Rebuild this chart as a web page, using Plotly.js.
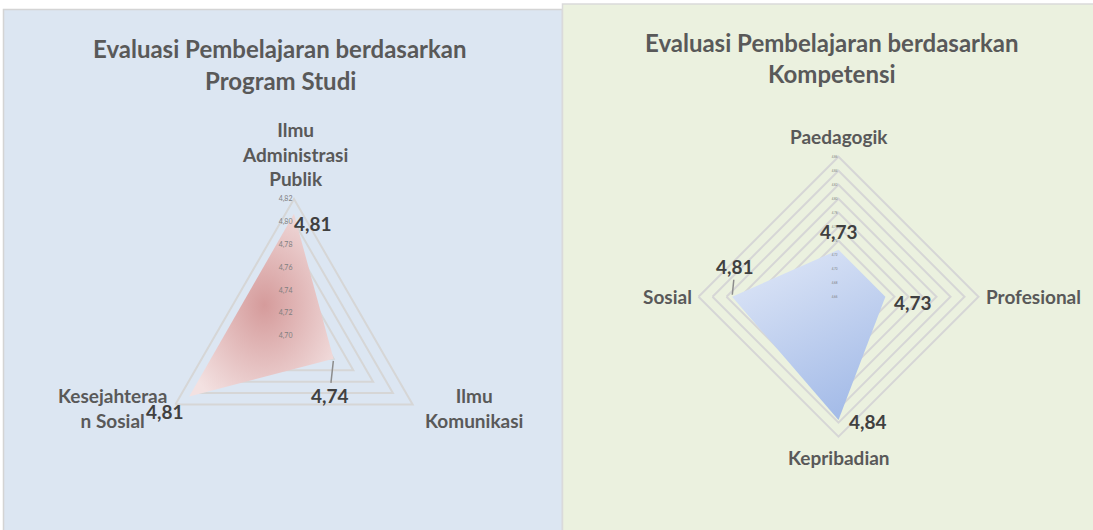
<!DOCTYPE html>
<html>
<head>
<meta charset="utf-8">
<script src="https://cdn.plot.ly/plotly-3.0.1.min.js"></script>
<style>html,body{margin:0;padding:0;background:#fff;}#chart{width:1093px;height:530px;}</style>
</head>
<body>
<div id="chart"></div>
<script>
// ---- Data ----
const progCategories = ['Ilmu Administrasi Publik', 'Ilmu Komunikasi', 'Kesejahteraan Sosial'];
const progLabels = ['Ilmu<br>Administrasi<br>Publik', 'Ilmu<br>Komunikasi', 'Kesejahteraa<br>n Sosial'];
const progValues = [4.807, 4.740, 4.806];
const progRange = [4.70, 4.82];
const progStep = 0.02;

const kompCategories = ['Paedagogik', 'Profesional', 'Kepribadian', 'Sosial'];
const kompValues = [4.727, 4.727, 4.836, 4.812];
const kompRange = [4.66, 4.86];
const kompStep = 0.02;

const titleLeft = ['Evaluasi Pembelajaran berdasarkan', 'Program Studi'];
const titleRight = ['Evaluasi Pembelajaran berdasarkan', 'Kompetensi'];

// ---- Geometry helpers ----
const W = 1093, H = 530;
const px = x => x / W;
const py = y => 1 - y / H;
const fmt = v => v.toFixed(2).replace('.', ',');

const left = {cx: 294, cy: 336, R: 137};
const right = {cx: 838.5, cy: 296.7, R: 140};
function domainOf(g) {
  return {x: [px(g.cx - g.R), px(g.cx + g.R)], y: [py(g.cy + g.R), py(g.cy - g.R)]};
}
function pt(g, range, v, angDeg) {
  const r = g.R * (v - range[0]) / (range[1] - range[0]);
  const a = angDeg * Math.PI / 180;
  return [g.cx + r * Math.cos(a), g.cy - r * Math.sin(a)];
}
function angles(n) { const out = []; for (let i = 0; i < n; i++) out.push(90 - 360 * i / n); return out; }

const close = a => a.concat([a[0]]);

const traces = [
  {
    type: 'scatterpolar', subplot: 'polar',
    r: close(progValues), theta: close(progCategories),
    mode: 'lines', fill: 'toself', line: {width: 0, color: 'rgba(0,0,0,0)'},
    fillcolor: '#e2b7b7', hoverinfo: 'skip'
  },
  {
    type: 'scatterpolar', subplot: 'polar2',
    r: close(kompValues), theta: close(kompCategories),
    mode: 'lines', fill: 'toself', line: {width: 0, color: 'rgba(0,0,0,0)'},
    fillcolor: '#c3d2f0', hoverinfo: 'skip'
  }
];

const gridCol = '#d6d6d6';
function polarLayout(g, range, step, tickSize) {
  return {
    domain: domainOf(g),
    bgcolor: 'rgba(0,0,0,0)',
    gridshape: 'linear',
    radialaxis: {
      range: range, tick0: range[0], dtick: step, tickformat: '.2f',
      angle: 90, tickangle: 90, side: 'counterclockwise', showline: false, ticks: '',
      gridcolor: gridCol, gridwidth: 2,
      tickfont: {family: 'Lato, sans-serif', size: tickSize, color: '#7f7f7f'}
    },
    angularaxis: {
      rotation: 90, direction: 'clockwise', showgrid: false,
      showline: true, linecolor: gridCol, linewidth: 2,
      showticklabels: false, ticks: ''
    }
  };
}

const annotations = [];
const labFont = {family: 'Lato, sans-serif', size: 19, color: '#595959'};
const valFont = {family: 'Lato, sans-serif', size: 19, color: '#404040'};
function addTitle(lines, cx, ys) {
  lines.forEach((t, i) => annotations.push({
    text: '<b>' + t + '</b>', xref: 'paper', yref: 'paper', x: px(cx), y: py(ys[i]),
    xanchor: 'center', yanchor: 'middle', showarrow: false,
    font: {family: 'Lato, sans-serif', size: 24, color: '#595959'}
  }));
}
addTitle(titleLeft, 280, [49, 81]);
addTitle(titleRight, 832, [43, 74]);

// Category labels
const progCatOff = [[1, -45], [61, 3], [-63, 3]];
angles(progCategories.length).forEach((a, i) => {
  const p = pt(left, progRange, progRange[1], a);
  annotations.push({text: '<b>' + progLabels[i] + '</b>', xref: 'paper', yref: 'paper',
    x: px(p[0] + progCatOff[i][0]), y: py(p[1] + progCatOff[i][1]),
    xanchor: 'center', yanchor: 'middle', align: 'center', showarrow: false, font: labFont});
});
const kompCatOff = [[0, -20], [55, 0], [0, 21], [-31, 0]];
angles(kompCategories.length).forEach((a, i) => {
  const p = pt(right, kompRange, kompRange[1], a);
  annotations.push({text: '<b>' + kompCategories[i] + '</b>', xref: 'paper', yref: 'paper',
    x: px(p[0] + kompCatOff[i][0]), y: py(p[1] + kompCatOff[i][1]),
    xanchor: 'center', yanchor: 'middle', showarrow: false, font: labFont});
});

// Value labels
function addValues(g, range, vals, offs, leader) {
  angles(vals.length).forEach((a, i) => {
    const p = pt(g, range, vals[i], a);
    if (leader.includes(i)) {
      annotations.push({text: '<b>' + fmt(vals[i]) + '</b>', xref: 'paper', yref: 'paper',
        x: px(p[0]), y: py(p[1]), ax: offs[i][0], ay: offs[i][1],
        showarrow: true, arrowhead: 0, arrowwidth: 1.5, arrowcolor: '#8c8c8c', standoff: 2, startstandoff: 0,
        font: valFont});
    } else {
      annotations.push({text: '<b>' + fmt(vals[i]) + '</b>', xref: 'paper', yref: 'paper',
        x: px(p[0] + offs[i][0]), y: py(p[1] + offs[i][1]),
        xanchor: 'center', yanchor: 'middle', showarrow: false, font: valFont});
    }
  });
}
addValues(left, progRange, progValues, [[19, 10], [-4, 37], [-24, 15]], [1]);
addValues(right, kompRange, kompValues, [[1, -18], [28, 6], [29, 2], [3, -30]], [3]);

const shapes = [
  {type: 'rect', xref: 'paper', yref: 'paper', x0: px(3.5), x1: px(562.5), y0: py(540), y1: py(9.5),
   fillcolor: '#dce6f2', line: {color: '#d4d4d4', width: 1.5}, layer: 'below'},
  {type: 'rect', xref: 'paper', yref: 'paper', x0: px(562.5), x1: px(1100), y0: py(540), y1: py(4),
   fillcolor: '#ebf1df', line: {color: '#dadada', width: 1.5}, layer: 'below'}
];

const layout = {
  width: W, height: H,
  margin: {l: 0, r: 0, t: 0, b: 0},
  paper_bgcolor: '#ffffff',
  separators: ', ',
  showlegend: false,
  font: {family: 'Lato, sans-serif'},
  polar: polarLayout(left, progRange, progStep, 7),
  polar2: polarLayout(right, kompRange, kompStep, 3),
  annotations: annotations,
  shapes: shapes
};

// Gradient styling of the radar fills (applied to the library-drawn fill paths)
const gradients = [
  {id: 'gradProg', type: 'radial', attrs: {cx: '0.52', cy: '0.5', r: '0.62', fx: '0.52', fy: '0.5'},
   stops: [['0', '#d59b9b'], ['1', '#f3e1e1']]},
  {id: 'gradKomp', type: 'linear', attrs: {x1: '0.15', y1: '0', x2: '0.6', y2: '1'},
   stops: [['0', '#dfe7f7'], ['1', '#a5bce8']]}
];

Plotly.newPlot('chart', traces, layout, {displayModeBar: false, staticPlot: true}).then(gd => {
  const NS = 'http://www.w3.org/2000/svg';
  const svg = gd.querySelector('svg.main-svg');
  let defs = svg.querySelector('defs');
  if (!defs) { defs = document.createElementNS(NS, 'defs'); svg.insertBefore(defs, svg.firstChild); }
  gradients.forEach(g => {
    const el = document.createElementNS(NS, g.type === 'radial' ? 'radialGradient' : 'linearGradient');
    el.setAttribute('id', g.id);
    Object.entries(g.attrs).forEach(([k, v]) => el.setAttribute(k, v));
    g.stops.forEach(([o, c]) => {
      const s = document.createElementNS(NS, 'stop');
      s.setAttribute('offset', o); s.setAttribute('stop-color', c);
      el.appendChild(s);
    });
    defs.appendChild(el);
  });
  ['polar', 'polar2'].forEach((sp, i) => {
    const fill = gd.querySelector('.' + sp + ' .scatterlayer path.js-fill') ||
                 gd.querySelector('g.' + sp + ' path.js-fill');
    if (fill) fill.style.fill = 'url(#' + gradients[i].id + ')';
  });
});
</script>
</body>
</html>
